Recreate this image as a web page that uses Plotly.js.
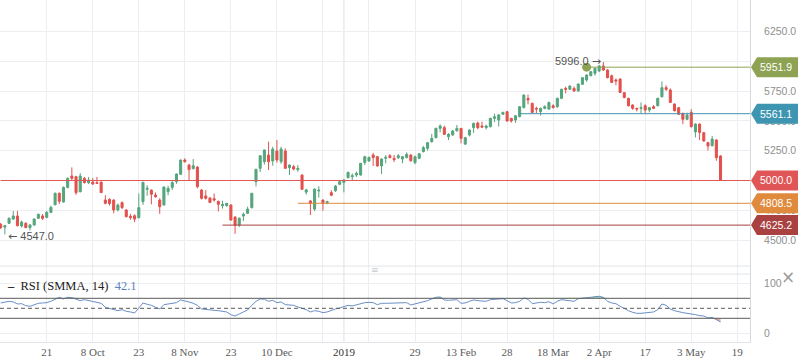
<!DOCTYPE html>
<html>
<head>
<meta charset="utf-8">
<script src="https://cdn.plot.ly/plotly-3.0.1.min.js"></script>
<style>html,body{margin:0;padding:0;background:#fff}#chart{width:798px;height:363px}</style>
</head>
<body>
<div id="chart"></div>
<script>
// ---- OHLC data (one bar per trading day) ----
const opens = [4632,4608,4640,4676,4702,4618,4640,4604,4626,4682,4702,4690,4732,4797,4892,4819,4942,5038,5032,4906,
5018,4982,4987,4982,4987,4836,4842,4836,4752,4814,4752,4699,4704,4688,4822,4926,4920,4878,4836,4794,
4906,4942,4990,5052,5172,5130,5099,5113,4920,4870,4853,4847,4825,4788,4788,4794,4693,4626,4702,4724,
4772,4990,5102,5158,5214,5164,5248,5158,5248,5108,5116,5091,5046,4902,4828,4760,4912,4836,4812,4898,
4914,4968,4984,5024,5032,5046,5046,5152,5164,5214,5200,5122,5186,5208,5186,5192,5180,5192,5214,5150,
5186,5242,5270,5326,5360,5438,5444,5368,5382,5418,5438,5306,5382,5444,5483,5458,5444,5452,5522,5508,
5556,5578,5522,5508,5536,5612,5690,5648,5606,5578,5606,5600,5628,5620,5690,5774,5766,5774,5752,5808,
5844,5880,5900,5920,5962,5928,5880,5844,5852,5738,5690,5634,5606,5606,5628,5592,5620,5628,5704,5780,
5760,5642,5612,5564,5514,5572,5408,5474,5402,5318,5292,5340,5206];
const highs = [4643,4625,4690,4744,4744,4663,4650,4634,4682,4722,4718,4744,4788,4900,4900,4950,5026,5110,5040,5062,
5030,5030,5020,5030,4990,4876,4850,4842,4806,4824,4760,4720,4715,4892,4990,4960,4922,4900,4850,4950,
4955,4996,5060,5176,5186,5140,5180,5120,4928,4920,4860,4890,4830,4830,4812,4800,4700,4690,4730,4780,
4896,5098,5212,5260,5326,5284,5340,5284,5270,5135,5132,5130,5050,4930,4836,4932,4952,4840,4830,4918,
4962,4996,5012,5074,5060,5074,5148,5208,5200,5232,5206,5186,5214,5222,5214,5222,5206,5236,5220,5208,
5230,5290,5324,5390,5444,5472,5460,5398,5424,5466,5440,5366,5430,5486,5494,5494,5468,5528,5562,5560,
5578,5584,5526,5550,5626,5722,5722,5654,5620,5612,5632,5662,5640,5696,5772,5788,5798,5790,5816,5870,
5892,5920,5948,5970,5996,5934,5890,5858,5858,5744,5696,5640,5612,5656,5640,5618,5634,5696,5832,5800,
5774,5648,5618,5570,5570,5600,5480,5480,5408,5326,5374,5346,5212];
const lows = [4592,4547,4635,4668,4615,4605,4600,4580,4620,4678,4668,4683,4726,4790,4802,4815,4934,5000,4880,4900,
4975,4970,4965,4970,4895,4800,4790,4724,4740,4760,4690,4670,4650,4680,4795,4872,4800,4855,4720,4790,
4876,4920,4972,5048,5150,5002,5095,4934,4840,4840,4810,4822,4740,4764,4780,4662,4552,4610,4660,4720,
4765,4950,5070,5134,5088,5124,5150,5140,5098,5046,5085,5074,4922,4882,4710,4742,4856,4746,4800,4868,
4904,4960,4900,5018,4998,5030,5040,5130,5158,5122,5116,5054,5144,5186,5155,5180,5144,5186,5158,5136,
5180,5236,5250,5318,5354,5404,5382,5340,5376,5410,5312,5298,5370,5400,5430,5440,5428,5446,5490,5454,
5550,5494,5486,5484,5530,5606,5640,5566,5566,5546,5598,5594,5606,5610,5684,5732,5760,5746,5746,5802,
5830,5876,5880,5910,5920,5858,5818,5800,5734,5690,5622,5594,5580,5560,5560,5572,5600,5622,5696,5752,
5650,5580,5550,5474,5508,5446,5362,5340,5326,5252,5286,5166,4996];
const closes = [4604,4620,4682,4702,4620,4651,4604,4626,4676,4716,4682,4732,4774,4892,4825,4942,5018,5018,4898,5038,
4982,5004,4970,4976,4898,4808,4806,4752,4794,4772,4696,4688,4676,4772,4984,4934,4884,4864,4780,4945,
4934,4982,5054,5172,5158,5091,5124,4948,4850,4850,4816,4836,4800,4800,4808,4668,4626,4682,4716,4760,
4892,5094,5208,5256,5158,5264,5172,5264,5102,5130,5096,5102,4926,4921,4808,4928,4918,4808,4822,4876,
4954,4990,5004,5068,5040,5060,5144,5200,5194,5192,5122,5180,5194,5194,5175,5208,5200,5220,5166,5200,
5225,5276,5318,5354,5438,5458,5388,5388,5416,5438,5354,5360,5424,5480,5444,5449,5458,5522,5536,5550,
5572,5500,5500,5544,5620,5718,5676,5572,5600,5606,5620,5656,5612,5690,5766,5766,5794,5752,5810,5864,
5886,5914,5942,5962,5928,5864,5824,5836,5740,5698,5628,5606,5600,5612,5592,5612,5606,5690,5780,5766,
5656,5586,5556,5514,5550,5452,5474,5404,5332,5290,5348,5192,5000];

// ---- RSI (SMMA, 14) ----
const rsi = [60.7,62.7,64,62.7,58.7,59.3,55.3,54,57.3,60,60.7,61.3,64,67.3,72,68.7,72,71.3,68.7,65.3,
67.3,65.3,63.3,62,60,52,49.3,48,45.3,47.3,44,42.7,40.7,50.7,60.7,58,56,52,48.7,57.3,
58.7,59.3,61.3,66.7,65.3,62.7,60,56,48.7,47.3,46,46,45.3,44.7,42.7,37.3,34.7,38.7,42,46.7,
56,64,68.7,68,64,66,61.3,62.7,57.3,56,56,52.7,50,47.3,42.7,45.3,44,41.3,42.7,46,
48.7,50.7,53.3,56,54.7,57.3,60,61.3,62,61.3,57.3,60,60,60,60.7,60,60.7,61.3,56.7,58.7,
61.3,63.3,65.3,68.7,72,72.7,66.7,66,67.3,67.3,60,60.7,64,66.7,65.3,64,64,67.3,68,69.3,
69.3,65.3,60.7,61.3,64,70.7,68,59.3,60.7,62,61.3,63.3,58.7,64,67.3,66.7,66,64,69.3,70.7,
71.3,72,73.3,74,72,64,60.7,59.3,54,49.3,45.3,42,40,40,40.7,42,42.7,47.3,58.7,56,
48.7,45.3,42.7,41.3,40,39.3,37.3,35.3,34.7,30.7,32,27.3,22.7];
const rsiLabel = "RSI (SMMA, 14)";
const rsiValueLabel = "42.1";

// ---- x-axis ticks (bar index of each label) ----
const tickBars   = [11, 22, 33, 44, 55, 66, 77, 82, 88, 99, 110, 121, 132, 143, 154, 165, 176];
const tickLabels = ["21","8 Oct","23","8 Nov","23","10 Dec","","2019","","29","13 Feb","28","18 Mar","2 Apr","17","3 May","19"];
const yearBar = 82;

// ---- price axis ticks (labels hidden under level badges are blank) ----
const priceTicks  = [4500, 4750, 5000, 5250, 5500, 5750, 6000, 6250];
const priceLabels = ["4500.0", "4750.0", "", "5250.0", "5500.0", "5750.0", "", "6250.0"];

// ---- price levels ----
const levelValues = [5951.9, 5561.1, 5000.0, 4808.5, 4625.2];
const levelStartBars = [140, 124, 0, 71, 53];
const rsiLevels = [70, 50, 30];

// ---- styles ----
const levelColors = ["#8da353", "#3e95b1", "#e05656", "#e08a3d", "#a8413f"];
const GREEN = "#55a57d", RED = "#e2514d";
const GRID = "#eceef1";

const bars = closes.map((_, i) => i);
const xMax = 179.04, xMin = -0.167;

const traces = [];
traces.push({
  type: "candlestick", x: bars, open: opens, high: highs, low: lows, close: closes,
  xaxis: "x", yaxis: "y", whiskerwidth: 0,
  increasing: {line: {color: GREEN, width: 1}, fillcolor: GREEN},
  decreasing: {line: {color: RED, width: 1}, fillcolor: RED},
  hoverinfo: "skip", showlegend: false
});
// start dot of the top level
traces.push({type: "scatter", mode: "markers", x: [levelStartBars[0]], y: [levelValues[0]],
  marker: {color: levelColors[0], size: 9}, xaxis: "x", yaxis: "y", hoverinfo: "skip", showlegend: false});

// RSI fills above 70 / below 30
traces.push({type: "scatter", mode: "lines", x: bars, y: bars.map(() => 70), line: {width: 0},
  xaxis: "x", yaxis: "y2", hoverinfo: "skip", showlegend: false});
traces.push({type: "scatter", mode: "lines", x: bars, y: rsi.map(v => Math.max(v, 70)), line: {width: 0},
  fill: "tonexty", fillcolor: "rgba(90,190,110,0.55)", xaxis: "x", yaxis: "y2", hoverinfo: "skip", showlegend: false});
traces.push({type: "scatter", mode: "lines", x: bars, y: bars.map(() => 30), line: {width: 0},
  xaxis: "x", yaxis: "y2", hoverinfo: "skip", showlegend: false});
traces.push({type: "scatter", mode: "lines", x: bars, y: rsi.map(v => Math.min(v, 30)), line: {width: 0},
  fill: "tonexty", fillcolor: "rgba(235,110,110,0.6)", xaxis: "x", yaxis: "y2", hoverinfo: "skip", showlegend: false});
traces.push({type: "scatter", mode: "lines", x: bars, y: rsi, line: {color: "#6a8fc6", width: 1},
  xaxis: "x", yaxis: "y2", hoverinfo: "skip", showlegend: false});

const shapes = [];
// darker year gridline
shapes.push({type: "line", xref: "x", yref: "paper", x0: yearBar, x1: yearBar, y0: 0, y1: 1,
  line: {color: "#d9dcdf", width: 1}, layer: "below"});
// panel borders
shapes.push({type: "line", xref: "paper", yref: "paper", x0: 0, x1: 1, y0: 0.2222, y1: 0.2222, line: {color: "#e1e4e8", width: 1}});
shapes.push({type: "line", xref: "paper", yref: "paper", x0: 0, x1: 1, y0: 0.1988, y1: 0.1988, line: {color: "#e1e4e8", width: 1}});
// price level lines + right badges
levelValues.forEach((v, k) => {
  shapes.push({type: "line", xref: "x", yref: "y", x0: levelStartBars[k], x1: xMax, y0: v, y1: v,
    line: {color: levelColors[k], width: 1}});
  shapes.push({type: "path", xref: "paper", xsizemode: "pixel", xanchor: 1, yref: "y", ysizemode: "pixel", yanchor: v,
    path: "M 1 0 L 7 10 L 48 10 L 48 -10 L 7 -10 Z", fillcolor: levelColors[k], line: {width: 0}, layer: "above"});
});
// RSI levels
rsiLevels.forEach(v => {
  shapes.push({type: "line", xref: "paper", yref: "y2", x0: 0, x1: 1, y0: v, y1: v,
    line: {color: "#5a5a5a", width: 1, dash: v === 50 ? "4px,3px" : "solid"}});
});

const annotations = [];
levelValues.forEach((v, k) => {
  annotations.push({xref: "paper", yref: "y", x: 1.0347, y: v, xanchor: "center", yanchor: "middle",
    text: v.toFixed(1), showarrow: false, font: {family: "Liberation Sans, Arial", size: 10.5, color: "#ffffff"}});
});
// extreme labels (from data)
const hiIdx = highs.indexOf(Math.max(...highs));
const loIdx = lows.indexOf(Math.min(...lows));
annotations.push({xref: "x", yref: "y", x: hiIdx, y: highs[hiIdx], xanchor: "right", yanchor: "middle", xshift: 0, yshift: 0,
  text: highs[hiIdx].toFixed(1) + " <span style='font-family:DejaVu Sans'>\u2192</span>", showarrow: false,
  font: {family: "Liberation Sans, Arial", size: 11, color: "#555"}});
annotations.push({xref: "x", yref: "y", x: loIdx, y: lows[loIdx], xanchor: "left", yanchor: "middle", xshift: 1, yshift: -2,
  text: "<span style='font-family:DejaVu Sans'>\u2190</span> " + lows[loIdx].toFixed(1), showarrow: false,
  font: {family: "Liberation Sans, Arial", size: 11, color: "#555"}});
// RSI caption
annotations.push({xref: "paper", yref: "paper", x: 0.006, y: 0.1646, xanchor: "left", yanchor: "middle", showarrow: false,
  text: "<b>\u2013</b>  " + rsiLabel + "  <span style='color:#5b82bd'>" + rsiValueLabel + "</span>",
  font: {family: "Liberation Serif, Times New Roman, serif", size: 12.5, color: "#222"}});
// separator handle and close icon
annotations.push({xref: "paper", yref: "paper", x: 0.5, y: 0.2105, xanchor: "center", yanchor: "middle", showarrow: false,
  text: "\u2261", font: {family: "DejaVu Sans", size: 9, color: "#c8cbd0"}});
annotations.push({xref: "paper", yref: "paper", x: 1.05, y: 0.19, xanchor: "center", yanchor: "middle", showarrow: false,
  text: "\u00d7", font: {family: "DejaVu Sans", size: 17, color: "#9a9a9a"}});

const layout = {
  width: 798, height: 363,
  margin: {l: 0, r: 48, t: 0, b: 21, pad: 0},
  paper_bgcolor: "#ffffff", plot_bgcolor: "#ffffff",
  showlegend: false, boxgap: 0.3,
  xaxis: {domain: [0, 1], anchor: "y2", range: [xMin, xMax], tickmode: "array", tickvals: tickBars,
    ticktext: tickLabels.map(t => t === "2019" ? "<span style='color:#333'>2019</span>" : t),
    showgrid: true, gridcolor: GRID, gridwidth: 1, zeroline: false, showline: true, linecolor: "#e1e4e8",
    ticks: "", tickfont: {family: "Liberation Serif, Times New Roman, serif", size: 11, color: "#5a5a5a"},
    rangeslider: {visible: false}, fixedrange: true},
  yaxis: {domain: [0.2222, 1], anchor: "x", side: "right", range: [4281.6, 6516.3], tickmode: "array",
    tickvals: priceTicks, ticktext: priceLabels, showgrid: true, gridcolor: GRID, zeroline: false, showline: true, linecolor: "#d5d8dc",
    ticks: "", ticklabelstandoff: 11, tickfont: {family: "Liberation Sans, Arial", size: 10.5, color: "#8f8f8f"}, fixedrange: true},
  yaxis2: {domain: [0, 0.2222], anchor: "x", side: "right", range: [-17.4, 134.6], tickvals: [0, 100], ticktext: ["0", "100"],
    showgrid: true, gridcolor: GRID, zeroline: false, showline: true, linecolor: "#d5d8dc",
    ticks: "", ticklabelstandoff: 11, tickfont: {family: "Liberation Sans, Arial", size: 10.5, color: "#8f8f8f"}, fixedrange: true},
  shapes: shapes,
  annotations: annotations
};

Plotly.newPlot("chart", traces, layout, {displayModeBar: false, staticPlot: true});
</script>
</body>
</html>
